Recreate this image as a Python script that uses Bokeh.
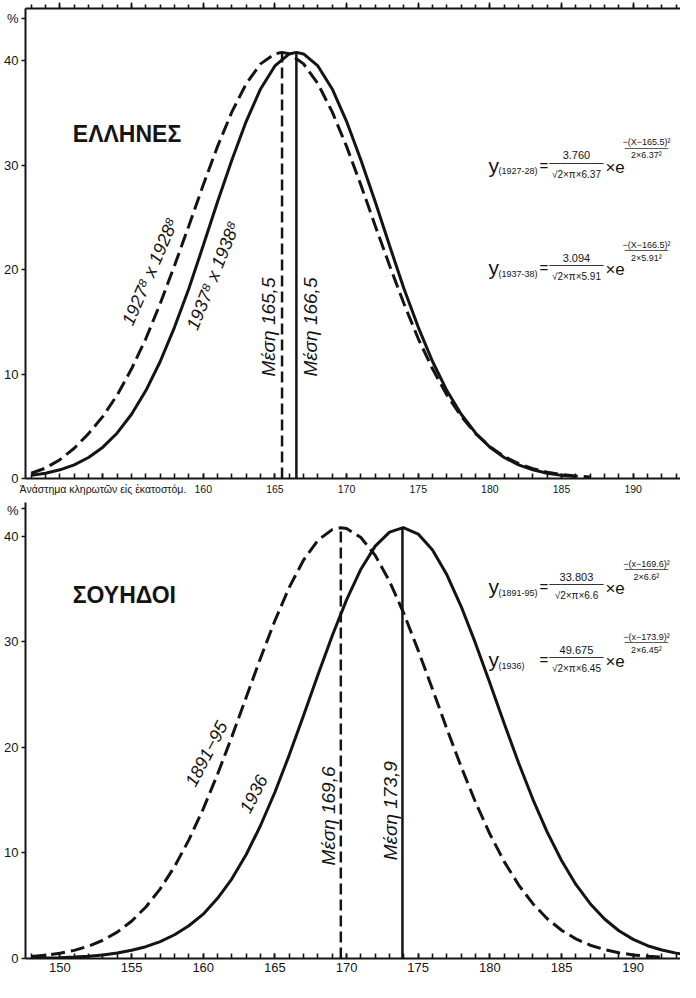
from bokeh.plotting import figure
from bokeh.models import Range1d, FixedTicker, LinearAxis, Label
from bokeh.layouts import column
from bokeh.embed import file_html
from bokeh.resources import INLINE
import math

# ---------------- data ----------------
# Greeks, conscripts 1927-28 (dashed)
gr_a_x = [148, 149, 150, 151, 152, 153, 154, 155, 156, 157, 158, 159, 160, 161, 162, 163, 164, 165, 165.5,
          166, 167, 168, 169, 170, 171, 172, 173, 174, 175, 176, 177, 178, 179, 180, 181, 182, 183, 184, 185, 186, 187]
gr_a_y = [0.5, 1.0, 1.8, 2.9, 4.3, 5.95, 8.0, 10.5, 13.4, 16.75, 20.4, 24.2, 28.1, 31.8, 35.1, 37.8, 39.7, 40.67, 40.8,
          40.67, 39.7, 37.8, 35.1, 31.8, 28.1, 24.2, 20.4, 16.75, 13.4, 10.5, 8.0, 5.95, 4.3, 3.06, 2.11, 1.42, 0.94, 0.6, 0.38, 0.23, 0.14]
# Greeks, conscripts 1937-38 (solid)
gr_b_x = [148, 149, 150, 151, 152, 153, 154, 155, 156, 157, 158, 159, 160, 161, 162, 163, 164, 165, 166, 166.5,
          167, 168, 169, 170, 171, 172, 173, 174, 175, 176, 177, 178, 179, 180, 181, 182, 183, 184, 185, 186]
gr_b_y = [0.3, 0.51, 0.83, 1.31, 2.01, 3.0, 4.36, 6.15, 8.42, 11.2, 14.5, 18.2, 22.3, 26.5, 30.5, 34.2, 37.3, 39.5, 40.65, 40.8,
          40.65, 39.5, 37.3, 34.2, 30.5, 26.5, 22.3, 18.2, 14.5, 11.2, 8.42, 6.15, 4.36, 3.0, 2.01, 1.31, 0.83, 0.51, 0.3, 0.18]
# Swedes 1891-95 (dashed)
se_a_x = [148, 149, 150, 151, 152, 153, 154, 155, 156, 157, 158, 159, 160, 161, 162, 163, 164, 165, 166, 167, 168, 169, 169.6,
          170, 171, 172, 173, 174, 175, 176, 177, 178, 179, 180, 181, 182, 183, 184, 185, 186, 187, 188, 189, 190, 191, 192]
se_a_y = [0.19, 0.31, 0.5, 0.77, 1.17, 1.73, 2.5, 3.53, 4.88, 6.6, 8.71, 11.24, 14.17, 17.46, 21.02, 24.75, 28.47, 32.0, 35.16,
          37.75, 39.62, 40.63, 40.8, 40.73, 39.89, 38.19, 35.73, 32.67, 29.19, 25.5, 21.76, 18.15, 14.8, 11.79, 9.18, 6.98,
          5.19, 3.77, 2.68, 1.86, 1.26, 0.84, 0.54, 0.34, 0.21, 0.13]
# Swedes 1936 (solid)
se_b_x = [148, 149, 150, 151, 152, 153, 154, 155, 156, 157, 158, 159, 160, 161, 162, 163, 164, 165, 166, 167, 168, 169, 170,
          171, 172, 173, 173.9, 174, 175, 176, 177, 178, 179, 180, 181, 182, 183, 184, 185, 186, 187, 188, 189, 190, 191, 192, 193, 194]
se_b_y = [0.02, 0.04, 0.08, 0.14, 0.22, 0.34, 0.52, 0.78, 1.12, 1.6, 2.25, 3.1, 4.2, 5.7, 7.55, 9.85, 12.6, 15.75, 19.27,
          23.02, 26.85, 30.58, 33.98, 36.88, 39.07, 40.4, 40.8, 40.8, 40.21, 38.69, 36.35, 33.34, 29.85, 26.09, 22.26, 18.54,
          15.08, 11.97, 9.28, 7.02, 5.19, 3.74, 2.63, 1.81, 1.21, 0.8, 0.51, 0.32]

gr_means = [165.5, 166.5]
gr_peaks = [40.8, 40.8]
se_means = [169.6, 173.9]
se_peaks = [40.8, 40.8]

x_major = [150, 155, 160, 165, 170, 175, 180, 185, 190]
x_minor = list(range(147, 195))
y_major = [0, 10, 20, 30, 40]

title_gr = "ΕΛΛΗΝΕΣ"
title_se = "ΣΟΥΗΔΟΙ"
axis_note = "Ἀνάστημα κληρωτῶν εἰς ἑκατοστόμ."
curve_labels_gr = ["1927⁸ x 1928⁸", "1937⁸ x 1938⁸"]
curve_labels_se = ["1891−95", "1936"]
mean_labels_gr = ["Μέση 165,5", "Μέση 166,5"]
mean_labels_se = ["Μέση 169,6", "Μέση 173,9"]
formulas_gr = [("(1927-28)", "3.760", "√2×π×6.37", "−(X−165.5)²", "2×6.37²"),
               ("(1937-38)", "3.094", "√2×π×5.91", "−(X−166.5)²", "2×5.91²")]
formulas_se = [("(1891-95)", "33.803", "√2×π×6.6", "−(x−169.6)²", "2×6.6²"),
               ("(1936)", "49.675", "√2×π×6.45", "−(x−173.9)²", "2×6.45²")]

FONT = "Liberation Sans"
INK = "#141414"
NOTE_AT = 153.0   # where the axis note sits along the lower axis of the top panel

x_range = Range1d(147.6, 193.3)


def style_x(ax, ticks, overrides, ticks_in=True, size="13px"):
    ax.ticker = FixedTicker(ticks=ticks, minor_ticks=x_minor)
    ax.major_label_overrides = overrides
    ax.axis_line_width = 2.2
    ax.axis_line_color = INK
    ax.major_tick_line_color = INK
    ax.minor_tick_line_color = INK
    ax.major_tick_line_width = 1.6
    ax.minor_tick_line_width = 1.6
    if ticks_in:
        ax.major_tick_in, ax.major_tick_out = 5, 0
        ax.minor_tick_in, ax.minor_tick_out = 5, 0
    else:
        ax.major_tick_in, ax.major_tick_out = 0, 6
        ax.minor_tick_in, ax.minor_tick_out = 0, 4
    ax.major_label_text_font = FONT
    ax.major_label_text_font_size = size
    ax.major_label_text_color = INK
    ax.major_label_standoff = 4


def style_y(ax, top):
    ax.ticker = FixedTicker(ticks=y_major + [top], minor_ticks=[])
    ax.major_label_overrides = {top: "%"}
    ax.axis_line_width = 2
    ax.axis_line_color = INK
    ax.major_tick_line_color = INK
    ax.major_tick_line_width = 1.5
    ax.major_tick_in, ax.major_tick_out = 0, 4
    ax.minor_tick_line_color = None
    ax.major_label_text_font = FONT
    ax.major_label_text_font_size = "13px"
    ax.major_label_text_color = INK
    ax.major_label_standoff = 3


def make_fig(height, ytop, border_top):
    p = figure(width=680, height=height, x_range=x_range, y_range=Range1d(0, ytop),
               output_backend="svg", toolbar_location=None,
               min_border_left=25, min_border_right=0, min_border_top=border_top, min_border_bottom=24)
    p.outline_line_color = None
    p.grid.visible = False
    p.background_fill_color = "white"
    p.border_fill_color = "white"
    return p


def lab(p, x, y, text, size, angle=0.0, align="center", baseline="middle", style="normal",
        xo=0, yo=0, font=FONT):
    p.add_layout(Label(x=x, y=y, x_offset=xo, y_offset=yo, text=text, angle=angle,
                       text_font=font, text_font_size=size, text_font_style=style,
                       text_color=INK, text_align=align, text_baseline=baseline))


def formula(p, x, y, parts):
    sub, num, den, enum, eden = parts
    lab(p, x, y, "y", "21px", align="left")
    lab(p, x, y, sub, "9px", align="left", xo=10, yo=-6)
    lab(p, x, y, "=", "15px", align="left", xo=51, yo=0)
    lab(p, x, y, num, "11px", xo=88, yo=10)
    lab(p, x, y, "─" * 9, "10px", xo=88, yo=2, font="DejaVu Sans")
    lab(p, x, y, den, "10px", xo=88, yo=-9)
    lab(p, x, y, "×e", "17px", align="left", xo=117, yo=-2)
    lab(p, x, y, enum, "9px", xo=158, yo=23)
    lab(p, x, y, "─" * 9, "8px", xo=158, yo=17, font="DejaVu Sans")
    lab(p, x, y, eden, "9px", xo=158, yo=10)


# ---------------- top panel: Greeks ----------------
p1 = make_fig(502, 45, 8)
style_x(p1.xaxis[0], [NOTE_AT] + x_major[2:], {NOTE_AT: axis_note}, ticks_in=True, size="10.5px")
style_y(p1.yaxis[0], 44)
top_ax = LinearAxis()
style_x(top_ax, x_major, {t: "" for t in x_major}, ticks_in=False)
top_ax.major_label_standoff = 0
p1.add_layout(top_ax, "above")

p1.line(gr_a_x, gr_a_y, line_color=INK, line_width=3, line_dash="14 6")
p1.line(gr_b_x, gr_b_y, line_color=INK, line_width=3)
p1.segment(x0=gr_means[:1], y0=[0], x1=gr_means[:1], y1=gr_peaks[:1],
           line_color=INK, line_width=2.5, line_dash="11 5")
p1.segment(x0=gr_means[1:], y0=[0], x1=gr_means[1:], y1=gr_peaks[1:],
           line_color=INK, line_width=2.5)

lab(p1, 150.9, 33.0, title_gr, "23px", align="left", style="bold")
lab(p1, 156.3, 19.8, curve_labels_gr[0], "18px", angle=1.16, style="italic")
lab(p1, 160.7, 19.4, curve_labels_gr[1], "18px", angle=1.19, style="italic")
lab(p1, 164.55, 14.5, mean_labels_gr[0], "19px", angle=math.pi / 2, style="italic")
lab(p1, 167.5, 14.5, mean_labels_gr[1], "19px", angle=math.pi / 2, style="italic")
formula(p1, 179.9, 30.0, formulas_gr[0])
formula(p1, 179.9, 20.2, formulas_gr[1])

# ---------------- bottom panel: Swedes ----------------
p2 = make_fig(480, 43.2, 0)
style_x(p2.xaxis[0], x_major, {}, ticks_in=True)
style_y(p2.yaxis[0], 42.6)

p2.line(se_a_x, se_a_y, line_color=INK, line_width=3, line_dash="14 6")
p2.line(se_b_x, se_b_y, line_color=INK, line_width=3)
p2.segment(x0=se_means[:1], y0=[0], x1=se_means[:1], y1=se_peaks[:1],
           line_color=INK, line_width=2.5, line_dash="11 5")
p2.segment(x0=se_means[1:], y0=[0], x1=se_means[1:], y1=se_peaks[1:],
           line_color=INK, line_width=2.5)

lab(p2, 150.9, 34.4, title_se, "23px", align="left", style="bold")
lab(p2, 160.2, 19.4, curve_labels_se[0], "18px", angle=1.09, style="italic")
lab(p2, 163.5, 15.6, curve_labels_se[1], "18px", angle=1.10, style="italic")
lab(p2, 168.75, 13.5, mean_labels_se[0], "19px", angle=math.pi / 2, style="italic")
lab(p2, 173.1, 14.0, mean_labels_se[1], "19px", angle=math.pi / 2, style="italic")
formula(p2, 179.9, 35.2, formulas_se[0])
formula(p2, 179.9, 28.3, formulas_se[1])

layout = column(p1, p2, spacing=0)
open("out.html", "w").write(file_html(layout, INLINE))
